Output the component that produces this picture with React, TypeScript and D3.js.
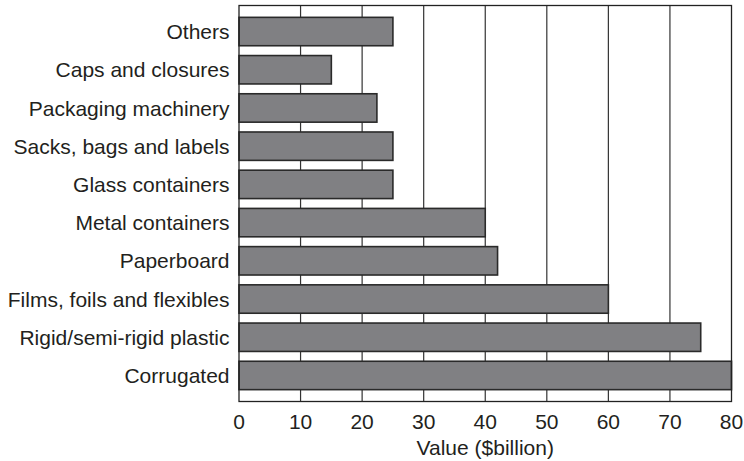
import React from "react";
import * as d3 from "d3";

const categories = [
  "Others",
  "Caps and closures",
  "Packaging machinery",
  "Sacks, bags and labels",
  "Glass containers",
  "Metal containers",
  "Paperboard",
  "Films, foils and flexibles",
  "Rigid/semi-rigid plastic",
  "Corrugated",
];
const values = [25, 15, 22.4, 25, 25, 40, 42, 60, 75, 80];
const xTicks = [0, 10, 20, 30, 40, 50, 60, 70, 80];
const xLabel = "Value ($billion)";

const W = 744;
const H = 461;
const left = 239;
const right = 731.5;
const top = 5.5;
const bottom = 401.5;
const font = "'Liberation Sans', Arial, Helvetica, sans-serif";
const textColor = "#231f20";
const fs = 21;

export default function App() {
  const x = d3.scaleLinear().domain([0, 80]).range([left, right]);
  const y = d3
    .scaleBand<string>()
    .domain(categories)
    .range([top, bottom])
    .paddingInner(0.257)
    .paddingOuter(0.31);

  return (
    <svg
      width={W}
      height={H}
      style={{ position: "fixed", left: 0, top: 0, background: "#fff" }}
      fontFamily={font}
    >
      {xTicks.slice(1, -1).map((t) => (
        <line
          key={"g" + t}
          x1={x(t)}
          x2={x(t)}
          y1={top}
          y2={bottom}
          stroke="#333"
          strokeWidth={1.2}
        />
      ))}
      {categories.map((c, i) => (
        <rect
          key={c}
          x={x(0)}
          y={y(c)}
          width={x(values[i]) - x(0)}
          height={y.bandwidth()}
          fill="#808083"
          stroke="#2a2a2a"
          strokeWidth={1.6}
        />
      ))}
      <rect
        x={left}
        y={top}
        width={right - left}
        height={bottom - top}
        fill="none"
        stroke="#222"
        strokeWidth={1.3}
      />
      {categories.map((c) => (
        <text
          key={"l" + c}
          x={229.5}
          y={(y(c) as number) + y.bandwidth() / 2}
          dy="0.36em"
          textAnchor="end"
          fontSize={fs}
          fill={textColor}
        >
          {c}
        </text>
      ))}
      {xTicks.map((t) => (
        <text
          key={"t" + t}
          x={x(t)}
          y={429}
          textAnchor="middle"
          fontSize={fs}
          fill={textColor}
        >
          {t}
        </text>
      ))}
      <text
        x={(left + right) / 2}
        y={455}
        textAnchor="middle"
        fontSize={fs}
        fill={textColor}
      >
        {xLabel}
      </text>
    </svg>
  );
}
